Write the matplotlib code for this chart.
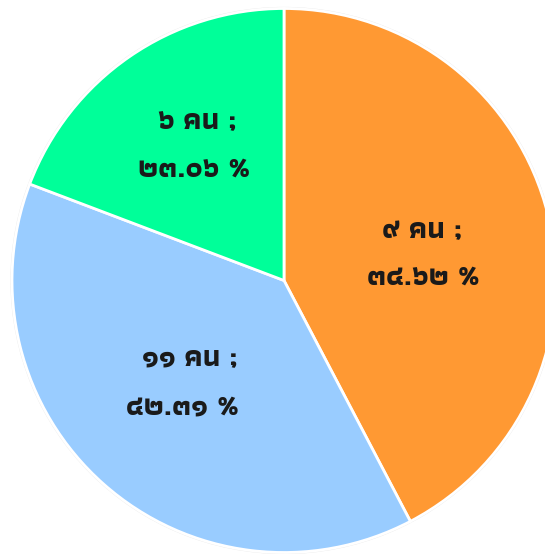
import matplotlib
matplotlib.use("Agg")
import matplotlib.pyplot as plt
from matplotlib import font_manager
from matplotlib.ft2font import FT2Font
from matplotlib.patches import Circle

# data (slice sizes as drawn; label texts as printed on the chart)
shares = [42.31, 38.46, 19.23]
count_labels = ["๙", "๑๑", "๖"]
percents = ["๓๔.๖๒", "๔๒.๓๑", "๒๓.๐๖"]
colors = ["#FF9933", "#99CCFF", "#00FF99"]


def find_thai_font():
    # look for an installed font that has Thai glyphs
    found = []
    for f in font_manager.fontManager.ttflist:
        try:
            cmap = FT2Font(f.fname).get_charmap()
        except Exception:
            continue
        if 0x0E04 in cmap and 0x0E53 in cmap:
            found.append((f.name, f.weight))
    found.sort(key=lambda t: (str(t[1]) not in ("700", "bold"), t[0]))
    return found[0][0] if found else None


thai = find_thai_font()
families = [thai, "DejaVu Sans"] if thai else ["DejaVu Sans"]

W, H = 545, 554
cx, cy = 284, 280.5    # pie centre in pixels (from top-left)
R = 272                # right side runs off the picture

fig = plt.figure(figsize=(W / 100, H / 100), dpi=100)
ax = fig.add_axes([0, 0, 1, 1])

# faint halo round the pie
ax.add_patch(Circle((0, 0), 1.006, facecolor="#e9e9e9", edgecolor="none",
                    zorder=0))
ax.pie(shares, colors=colors, startangle=90, counterclock=False, radius=1,
       wedgeprops=dict(edgecolor="white", linewidth=2))

ax.set_xlim(-cx / R, (W - cx) / R)
ax.set_ylim(-(H - cy) / R, cy / R)
ax.set_aspect("equal")
ax.axis("off")

# label line centres, in pixels from top-left
line1_pos = [(422, 231), (190, 358), (198, 122)]
line2_pos = [(424, 278), (183, 407), (194, 170)]
for (x1, y1), (x2, y2), c, p in zip(line1_pos, line2_pos, count_labels, percents):
    fig.text(x1 / W, 1 - y1 / H, f"{c} คน ;", ha="center", va="center",
             fontsize=21, fontweight="bold", family=families, color="#1a1a1a")
    fig.text(x2 / W, 1 - y2 / H, f"{p} %", ha="center", va="center",
             fontsize=21, fontweight="bold", family=families, color="#1a1a1a")

fig.savefig("out.png", dpi=100)
